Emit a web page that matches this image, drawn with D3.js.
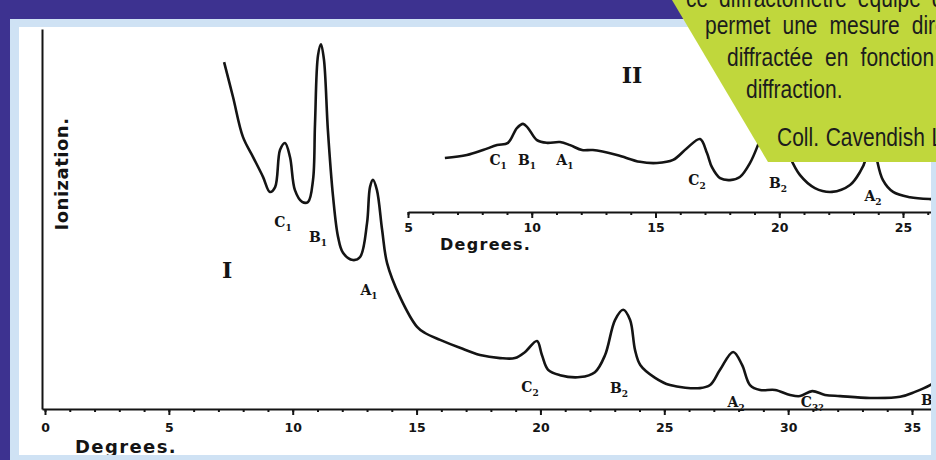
<!DOCTYPE html>
<html>
<head>
<meta charset="utf-8">
<script src="https://cdn.jsdelivr.net/npm/d3@7"></script>
<style>
  body { margin: 0; background: #3d3290; }
  svg { display: block; }
</style>
</head>
<body>
<div id="chart"></div>
<script>
// curve I (main), angle in degrees / ionization (arbitrary units)
var mainDeg = [7.23,7.59,7.99,8.40,8.80,9.08,9.29,9.49,9.69,9.89,
    10.09,10.38,10.62,10.82,10.90,11.02,11.14,11.26,11.42,11.63,
    11.83,12.03,12.43,12.72,13.00,13.12,13.24,13.40,13.61,13.81,
    14.33,15.02,15.34,15.95,16.75,17.56,18.37,18.97,19.38,19.86,
    20.06,20.31,20.79,21.60,22.20,22.61,23.01,23.34,23.62,23.82,
    24.03,24.63,25.23,26.44,26.85,27.25,27.78,28.14,28.46,28.87,
    29.47,30.08,30.48,30.97,31.49,32.10,33.31,34.52,35.12,35.73,36.33];
var mainIon = [91.3,82.1,71.6,66.3,61.1,57.1,58.4,68.2,70.0,66.3,
    57.6,54.5,54.5,60.3,75.0,93.0,96.0,92.0,73.4,55.8,
    45.3,41.1,39.2,40.0,48.9,58.4,60.3,57.6,47.1,38.4,
    29.5,21.6,20.0,18.2,16.1,14.2,13.4,13.4,15.0,17.9,
    14.2,10.3,8.9,8.4,9.7,14.2,23.4,26.1,23.4,15.5,
    11.6,8.2,6.3,5.5,6.3,10.3,15.0,11.6,6.3,5.0,
    5.0,3.7,3.4,4.7,3.7,3.4,2.9,3.2,4.5,6.3,8.9];

// curve II (inset)
var insetDeg = [6.49,7.38,8.03,8.60,9.04,9.40,9.65,9.85,10.21,10.62,
    11.14,11.55,12.03,12.47,13.44,14.37,15.06,15.71,16.27,16.80,
    17.08,17.28,17.61,18.01,18.41,18.82,19.22,19.71,20.11,20.43,
    20.84,21.44,22.13,22.86,23.26,23.51,23.71,23.95,24.19,24.60,
    25.28,26.09,26.7];
var insetIon = [14.2,15.0,16.3,17.6,18.2,22.1,23.2,22.1,18.9,18.2,
    18.4,17.6,16.3,16.3,15.0,13.2,12.9,13.7,16.8,19.2,
    15.5,11.8,8.9,8.4,9.2,12.9,18.9,26.8,20.3,14.5,
    9.7,6.3,5.3,7.1,10.5,14.2,24.2,13.7,8.4,5.3,
    3.9,3.4,3.4];

var mainTicks = [0,5,10,15,20,25,30,35];
var insetTicks = [5,10,15,20,25];

// peak labels: letter, subscript, angle, ionization
var mainLabels = [['C','1',9.61,49.2],['B','1',11.02,45.3],['A','1',13.08,31.3],
    ['C','2',19.58,5.8],['B','2',23.17,5.5],['A','2',27.90,1.8],['C','3?',30.97,1.8],['B','3',35.73,2.4]];
var insetLabels = [['C','1',8.64,13.7],['B','1',9.81,13.7],['A','1',11.34,13.7],
    ['C','2',16.68,8.4],['B','2',19.95,7.6],['A','2',23.79,4.2]];

var noteLines = ["ce diffractomètre équipé d'une chambre d'ionisation",
    "permet une mesure directe de l'intensité",
    "diffractée en fonction de l'angle de",
    "diffraction.",
    "Coll. Cavendish Laboratory"];

var width = 936, height = 460;

var svg = d3.select('#chart').append('svg')
    .attr('width', width)
    .attr('height', height);

svg.append('rect').attr('width', width).attr('height', height).attr('fill', '#3d3290');
svg.append('rect').attr('x', 10).attr('y', 19).attr('width', 930).attr('height', 445).attr('fill', '#cfe2f4');
svg.append('rect').attr('x', 19).attr('y', 27).attr('width', 912).attr('height', 428).attr('fill', '#fff');

svg.append('clipPath').attr('id', 'panel')
    .append('rect').attr('x', 19).attr('y', 27).attr('width', 912).attr('height', 428);

var chart = svg.append('g').attr('clip-path', 'url(#panel)');

// scales
var x = d3.scaleLinear().domain([0, 35]).range([45, 912]);
var y = d3.scaleLinear().domain([0, 100]).range([409, 29]);
var xi = d3.scaleLinear().domain([5, 25]).range([408, 903]);
var yi = d3.scaleLinear().domain([0, 100]).range([212, -168]);

var ink = '#141414';

function drawAxis(g, scale, lo, hi, ticks, yPos, pad) {
    var s = scale.copy().domain([lo, hi]).range([scale(lo), scale(hi)]);
    var minor = g.append('g')
        .attr('transform', `translate(0, ${yPos})`)
        .call(d3.axisBottom(s).tickValues(d3.range(Math.ceil(lo), hi, 1)).tickSize(3).tickFormat('').tickSizeOuter(0));
    minor.select('.domain').attr('stroke', ink).attr('stroke-width', 2);
    minor.selectAll('line').attr('stroke', ink).attr('stroke-width', 2);
    var major = g.append('g')
        .attr('transform', `translate(0, ${yPos})`)
        .call(d3.axisBottom(s).tickValues(ticks).tickSize(6).tickPadding(pad).tickSizeOuter(0));
    major.select('.domain').remove();
    major.selectAll('line').attr('stroke', ink).attr('stroke-width', 2);
    major.selectAll('text')
        .attr('fill', ink)
        .attr('font-family', 'DejaVu Sans')
        .attr('font-weight', 'bold')
        .attr('font-size', 12.5);
}

// main axes
drawAxis(chart, x, -0.12, 36.5, mainTicks, 409, 8);
chart.append('g')
    .attr('transform', 'translate(42, 0)')
    .call(d3.axisLeft(y).tickValues([]).tickSizeOuter(0))
    .select('.domain').attr('stroke', ink).attr('stroke-width', 2);

chart.append('text')
    .attr('transform', 'translate(68, 174) rotate(-90)')
    .attr('text-anchor', 'middle')
    .attr('font-family', 'DejaVu Sans')
    .attr('font-weight', 'bold')
    .attr('font-size', 18)
    .attr('letter-spacing', 0.5)
    .attr('fill', ink)
    .text('Ionization.');

chart.append('text')
    .attr('x', 75).attr('y', 453)
    .attr('font-family', 'DejaVu Sans')
    .attr('font-weight', 'bold')
    .attr('font-size', 18)
    .attr('letter-spacing', 1.4)
    .attr('fill', ink)
    .text('Degrees.');

// inset axis
drawAxis(chart, xi, 5, 27, insetTicks, 212, 5);
chart.append('text')
    .attr('x', 440).attr('y', 250)
    .attr('font-family', 'DejaVu Sans')
    .attr('font-weight', 'bold')
    .attr('font-size', 16)
    .attr('letter-spacing', 1.3)
    .attr('fill', ink)
    .text('Degrees.');

// curves
var lineMain = d3.line().x(d => x(d[0])).y(d => y(d[1])).curve(d3.curveCatmullRom.alpha(0.5));
var lineInset = d3.line().x(d => xi(d[0])).y(d => yi(d[1])).curve(d3.curveCatmullRom.alpha(0.5));

chart.append('path')
    .datum(d3.zip(mainDeg, mainIon))
    .attr('d', lineMain)
    .attr('fill', 'none').attr('stroke', ink).attr('stroke-width', 2.6)
    .attr('stroke-linejoin', 'round');

chart.append('path')
    .datum(d3.zip(insetDeg, insetIon))
    .attr('d', lineInset)
    .attr('fill', 'none').attr('stroke', ink).attr('stroke-width', 2.6)
    .attr('stroke-linejoin', 'round');

// peak labels
function addLabels(list, sx, sy) {
    var t = chart.selectAll(null)
        .data(list)
        .enter()
        .append('text')
        .attr('x', d => sx(d[2]))
        .attr('y', d => sy(d[3]))
        .attr('dy', '0.35em')
        .attr('text-anchor', 'middle')
        .attr('font-family', 'DejaVu Serif')
        .attr('font-weight', 'bold')
        .attr('font-size', 14)
        .attr('fill', ink);
    t.append('tspan').text(d => d[0]);
    t.append('tspan').attr('font-size', 9).attr('dy', 4).text(d => d[1]);
}
addLabels(mainLabels, x, y);
addLabels(insetLabels, xi, yi);

chart.append('text')
    .attr('x', x(7.35)).attr('y', y(36.6)).attr('dy', '0.35em')
    .attr('text-anchor', 'middle')
    .attr('font-family', 'DejaVu Serif').attr('font-weight', 'bold')
    .attr('font-size', 22).attr('fill', ink)
    .text('I');

chart.append('text')
    .attr('x', xi(14.05)).attr('y', yi(36.1)).attr('dy', '0.35em')
    .attr('text-anchor', 'middle')
    .attr('font-family', 'DejaVu Serif').attr('font-weight', 'bold')
    .attr('font-size', 22).attr('fill', ink)
    .text('II');

// callout
svg.append('path')
    .attr('d', 'M672,0 L936,0 L936,162 L768,162 Z')
    .attr('fill', '#c0d73c');

var noteX = [686, 705, 727, 746, 777];
var noteY = [7, 34, 66, 98, 146];
var noteGap = [6, 7.5, 7.5, 0, 1];
svg.selectAll('.note')
    .data(noteLines)
    .enter()
    .append('text')
    .attr('class', 'note')
    .attr('transform', (d, i) => `translate(${noteX[i]}, ${noteY[i]}) scale(0.84, 1)`)
    .attr('font-family', "'Liberation Sans'")
    .attr('font-size', 25)
    .attr('word-spacing', (d, i) => noteGap[i])
    .attr('fill', '#1c1c1c')
    .text(d => d);
</script>
</body>
</html>
